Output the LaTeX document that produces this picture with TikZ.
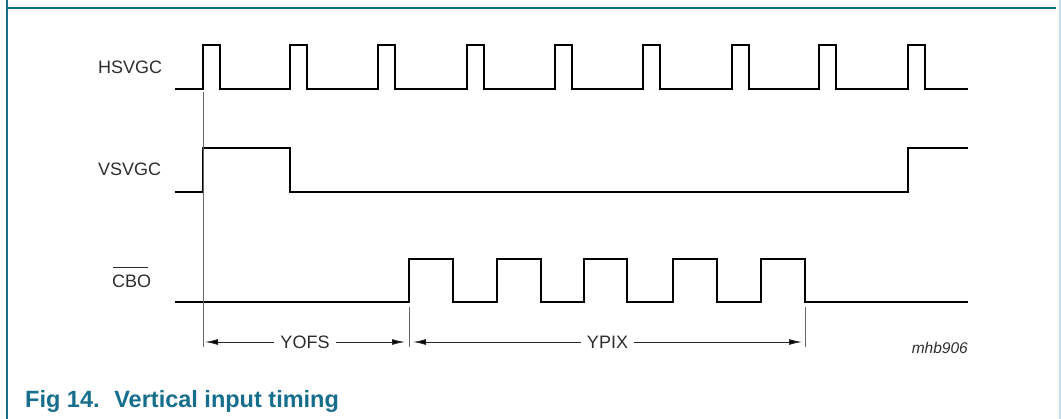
\documentclass[tikz,border=0pt]{standalone}
\usepackage{fontspec}
\setmainfont{Liberation Sans}
\usetikzlibrary{arrows.meta}
\definecolor{nxpteal}{RGB}{23,110,140}
\definecolor{framelight}{RGB}{196,220,232}
\definecolor{labelgray}{RGB}{45,45,45}
\begin{document}
\begin{tikzpicture}[x=1pt,y=-1pt,
  sig/.style={line width=2.5pt, black, line join=miter},
  thinline/.style={line width=0.8pt, black!60},
  lbl/.style={font=\fontsize{18}{20}\selectfont, text=labelgray, inner sep=0pt},
  dimline/.style={line width=0.9pt, black!85, {Latex[length=13pt,width=6pt,fill=black]}-{Latex[length=13pt,width=6pt,fill=black]}},
  gaplbl/.style={lbl, fill=white, inner xsep=6pt, inner ysep=2pt},
]
\useasboundingbox (0,0) rectangle (1061,419);
% frame
\draw[nxpteal, line width=1.5pt] (7,0) -- (7,419);
\draw[nxpteal, line width=1.5pt] (7,8) -- (1056,8);
\draw[framelight, line width=1.5pt] (1060,0) -- (1060,419);

% labels
\node[lbl, anchor=west] (hs) at (98,67) {HSVGC};
\node[lbl, anchor=west] (vs) at (98,169) {VSVGC};
\node[lbl, anchor=west] (cbo) at (112,281) {CBO};
\draw[line width=0.8pt, labelgray] ([yshift=7pt,xshift=1pt]cbo.north west) -- ([yshift=7pt,xshift=-3pt]cbo.north east);

% HSVGC
\draw[sig] (175,89) foreach \x in {203,290,378,467,555,643,732,819,908} { -- (\x,89) -- (\x,45) -- (\x+17,45) -- (\x+17,89) } -- (968,89);
% VSVGC
\draw[sig] (175,192) -- (203,192) -- (203,148) -- (290,148) -- (290,192) -- (908,192) -- (908,148) -- (968,148);
% CBO
\draw[sig] (175,302) foreach \x/\y in {409/453,497/541,584/627,673/717,761/805} { -- (\x,302) -- (\x,259) -- (\y,259) -- (\y,302) } -- (968,302);

% marker lines
\coordinate (m0t) at (203,92);
\coordinate (m0b) at (203,347);
\coordinate (m1t) at (409,307);
\coordinate (m1b) at (409,347);
\coordinate (m2t) at (805,307);
\coordinate (m2b) at (805,347);
\draw[thinline] (m0t) -- (m0b);
\draw[thinline] (m1t) -- (m1b);
\draw[thinline] (m2t) -- (m2b);

% dimensions
\coordinate (d0a) at (205,342);
\coordinate (d0b) at (405,342);
\coordinate (d1a) at (413,342);
\coordinate (d1b) at (802,342);
\draw[dimline] (d0a) -- node[gaplbl] (yofs) {YOFS} (d0b);
\draw[dimline] (d1a) -- node[gaplbl] (ypix) {YPIX} (d1b);

\node[font=\fontsize{15.5}{17}\selectfont\itshape, text=labelgray, inner sep=0pt, anchor=east] (code) at (968,348) {mhb906};

% caption
\node[anchor=base west, inner sep=0pt, font=\fontsize{23.5}{26}\selectfont\bfseries, text=nxpteal] (cap) at (25,408) {Fig 14.\hspace{6pt} Vertical input timing};
\end{tikzpicture}
\end{document}
